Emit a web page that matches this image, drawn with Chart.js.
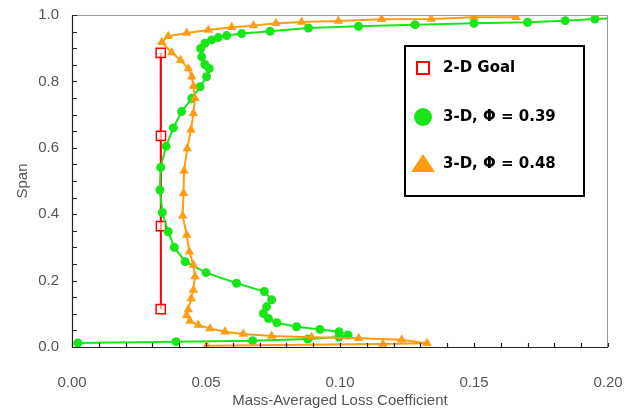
<!DOCTYPE html>
<html>
<head>
<meta charset="utf-8">
<script src="https://cdn.jsdelivr.net/npm/chart.js@4.4.0/dist/chart.umd.min.js"></script>
<style>
html,body{margin:0;padding:0;background:#fff;}
#wrap{width:633px;height:410px;position:relative;}
</style>
</head>
<body>
<div id="wrap"><canvas id="c" width="633" height="410"></canvas></div>
<script>
// 2-D Goal
const goalX = [0.0331, 0.0332, 0.0332, 0.0331];
const goalY = [0.886, 0.636, 0.364, 0.114];

// 3-D, Phi = 0.39 (green)
const g39X = [0.0022, 0.0388, 0.0674, 0.088, 0.0996, 0.103, 0.0996, 0.0925, 0.0838, 0.0764, 0.0733, 0.0714, 0.0726, 0.0745, 0.0718, 0.0614, 0.050, 0.0422, 0.0382, 0.0359, 0.0337, 0.0328, 0.0331, 0.0351, 0.0378, 0.0409, 0.0447, 0.0478, 0.0502, 0.0512, 0.0496, 0.0484, 0.048, 0.0496, 0.0521, 0.0546, 0.0577, 0.0633, 0.0739, 0.0882, 0.1069, 0.128, 0.150, 0.170, 0.184, 0.1951, 0.212];
const g39Y = [0.012, 0.016, 0.019, 0.024, 0.030, 0.036, 0.046, 0.053, 0.061, 0.073, 0.086, 0.101, 0.121, 0.142, 0.167, 0.192, 0.224, 0.257, 0.300, 0.347, 0.405, 0.473, 0.541, 0.605, 0.660, 0.709, 0.749, 0.784, 0.814, 0.839, 0.851, 0.874, 0.899, 0.915, 0.925, 0.932, 0.938, 0.944, 0.951, 0.961, 0.966, 0.971, 0.975, 0.978, 0.983, 0.988, 0.992];

// 3-D, Phi = 0.48 (orange)
const g48X = [0.0502, 0.116, 0.1325, 0.123, 0.107, 0.0894, 0.0745, 0.0639, 0.0571, 0.0515, 0.0471, 0.044, 0.0428, 0.0434, 0.0445, 0.0453, 0.0459, 0.0453, 0.0438, 0.0428, 0.0413, 0.0416, 0.0418, 0.043, 0.0444, 0.0453, 0.0459, 0.0453, 0.0447, 0.0434, 0.0405, 0.0372, 0.0335, 0.0359, 0.0428, 0.0509, 0.0596, 0.0677, 0.0761, 0.0857, 0.0994, 0.1155, 0.134, 0.150, 0.1657];
const g48Y = [0.004, 0.009, 0.011, 0.022, 0.026, 0.029, 0.033, 0.039, 0.046, 0.056, 0.066, 0.078, 0.096, 0.113, 0.146, 0.172, 0.212, 0.247, 0.287, 0.337, 0.395, 0.463, 0.531, 0.598, 0.654, 0.704, 0.749, 0.786, 0.814, 0.839, 0.864, 0.887, 0.918, 0.936, 0.946, 0.955, 0.963, 0.968, 0.975, 0.979, 0.982, 0.987, 0.988, 0.993, 0.993];

const legendLabels = ['2-D Goal', '3-D, \u03A6 = 0.39', '3-D, \u03A6 = 0.48'];
const xTitle = 'Mass-Averaged Loss Coefficient';
const yTitle = 'Span';

const RED = '#ff0000', GREEN = '#19e619', ORANGE = '#ff9c14';
const FONT = '"Liberation Sans", Arial, sans-serif';
const pts = (xs, ys) => xs.map((x, i) => ({x: x, y: ys[i]}));

const frame = {
  id: 'frame',
  afterDraw(chart) {
    const {ctx, chartArea: a, scales} = chart;
    ctx.save();
    ctx.strokeStyle = '#9a9a9a'; ctx.lineWidth = 1;
    ctx.beginPath();
    ctx.moveTo(a.left, a.top + 0.5); ctx.lineTo(a.right - 0.5, a.top + 0.5); ctx.lineTo(a.right - 0.5, a.bottom);
    ctx.stroke();
    ctx.strokeStyle = '#222'; ctx.lineWidth = 1.2;
    ctx.beginPath();
    ctx.moveTo(a.left + 0.5, a.top); ctx.lineTo(a.left + 0.5, a.bottom + 0.5); ctx.lineTo(a.right, a.bottom + 0.5);
    ctx.stroke();
    ctx.beginPath();
    scales.x.ticks.forEach((t, i) => {
      const px = Math.round(scales.x.getPixelForTick(i)) + 0.5;
      ctx.moveTo(px, a.bottom); ctx.lineTo(px, a.bottom - 4);
    });
    scales.y.ticks.forEach((t, i) => {
      const py = Math.round(scales.y.getPixelForTick(i)) + 0.5;
      ctx.moveTo(a.left, py); ctx.lineTo(a.left + 5, py);
    });
    ctx.stroke();

    const bx = 405, by = 46, bw = 179, bh = 150;
    ctx.fillStyle = '#fff';
    ctx.fillRect(bx, by, bw, bh);
    ctx.strokeStyle = '#000'; ctx.lineWidth = 2;
    ctx.strokeRect(bx, by, bw, bh);
    const mx = 423;
    const rows = [68, 117, 164];
    ctx.strokeStyle = RED; ctx.lineWidth = 2;
    ctx.strokeRect(mx - 6, rows[0] - 6, 12, 12);
    ctx.fillStyle = GREEN;
    ctx.beginPath(); ctx.arc(mx, rows[1], 9, 0, Math.PI * 2); ctx.fill();
    ctx.fillStyle = ORANGE;
    ctx.beginPath();
    ctx.moveTo(mx, rows[2] - 10); ctx.lineTo(mx + 12, rows[2] + 8); ctx.lineTo(mx - 12, rows[2] + 8); ctx.closePath(); ctx.fill();
    ctx.fillStyle = '#000';
    ctx.font = 'bold 15px "DejaVu Sans", Verdana, sans-serif';
    ctx.textBaseline = 'middle'; ctx.textAlign = 'left';
    legendLabels.forEach((s, i) => ctx.fillText(s, 443, rows[i]));
    ctx.restore();
  }
};

new Chart(document.getElementById('c'), {
  type: 'scatter',
  data: {
    datasets: [
      { label: legendLabels[2], data: pts(g48X, g48Y), showLine: true, borderColor: ORANGE, backgroundColor: ORANGE,
        borderWidth: 2, pointStyle: 'triangle', pointRadius: 5.5, pointBorderWidth: 0, pointBackgroundColor: ORANGE },
      { label: legendLabels[1], data: pts(g39X, g39Y), showLine: true, borderColor: GREEN, backgroundColor: GREEN,
        borderWidth: 2, pointStyle: 'circle', pointRadius: 4.5, pointBorderWidth: 0, pointBackgroundColor: GREEN },
      { label: legendLabels[0], data: pts(goalX, goalY), showLine: true, borderColor: RED, backgroundColor: '#fff',
        borderWidth: 2, pointStyle: 'rect', pointRadius: 6.5, pointBorderWidth: 1.5, pointBorderColor: RED, pointBackgroundColor: 'rgba(255,255,255,0.6)' }
    ]
  },
  options: {
    responsive: false,
    animation: false,
    layout: { padding: { top: 15, right: 25, left: 14, bottom: 0 } },
    plugins: { legend: { display: false }, tooltip: { enabled: false } },
    scales: {
      x: {
        type: 'linear', min: 0, max: 0.2,
        grid: { display: false, drawTicks: false },
        border: { display: false },
        ticks: {
          stepSize: 0.01, autoSkip: false, maxRotation: 0, padding: 27,
          color: '#555', font: { family: FONT, size: 15 },
          callback: (v) => (Math.round(v * 100) % 5 === 0) ? v.toFixed(2) : ''
        },
        title: { display: true, text: xTitle, color: '#555', padding: { top: 5, bottom: 0 },
          font: { family: FONT, size: 15 } },
        afterFit: (s) => { s.height = 63; s.paddingLeft = 0; s.paddingRight = 0; }
      },
      y: {
        type: 'linear', min: 0, max: 1,
        grid: { display: false, drawTicks: false },
        border: { display: false },
        ticks: {
          stepSize: 0.05, autoSkip: false, padding: 13,
          color: '#555', font: { family: FONT, size: 15 },
          callback: (v) => (Math.round(v * 100) % 20 === 0) ? v.toFixed(1) : ''
        },
        title: { display: true, text: yTitle, color: '#555', padding: { top: 0, bottom: 4 },
          font: { family: FONT, size: 15 } },
        afterFit: (s) => { s.width = 58; s.paddingTop = 0; s.paddingBottom = 0; }
      }
    }
  },
  plugins: [frame]
});
</script>
</body>
</html>
